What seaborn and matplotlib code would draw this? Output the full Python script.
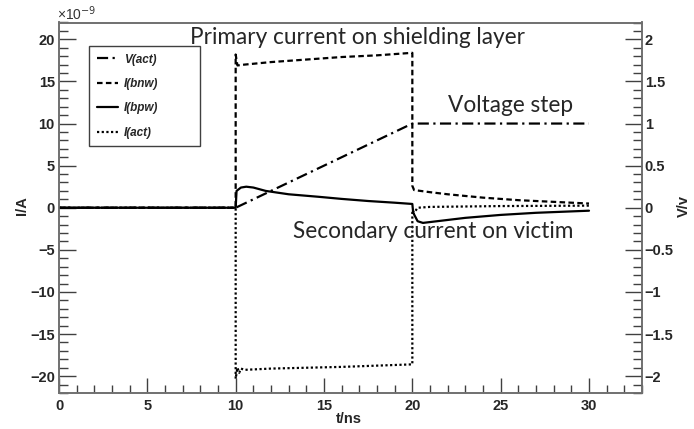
import numpy as np
import pandas as pd
import matplotlib
matplotlib.use('Agg')
import matplotlib.pyplot as plt
import seaborn as sns
from matplotlib.ticker import MultipleLocator
from matplotlib.lines import Line2D

# ---- values (currents in nA, voltage in V) ---- #
t_vact = [0, 10, 20, 30]
v_vact = [0, 0, 1, 1]

t_bnw = [0, 10, 10, 10.1, 10.5, 11, 12, 13, 14, 15, 16, 17, 18, 19, 20,
         20, 20.1, 21, 22, 23, 24, 25, 26, 27, 28, 29, 30]
i_bnw = [0, 0, 18.2, 16.9, 17.0, 17.1, 17.3, 17.45, 17.6, 17.75, 17.9, 18.0, 18.1, 18.25, 18.4,
         2.6, 2.1, 1.85, 1.6, 1.4, 1.2, 1.05, 0.9, 0.8, 0.7, 0.6, 0.5]

t_bpw = [0, 10, 10.05, 10.3, 10.6, 11, 11.7, 13, 14.7, 16, 17.5, 19, 20,
         20.05, 20.3, 20.6, 21, 22, 23, 25, 27, 30]
i_bpw = [0, 0, 2.0, 2.4, 2.5, 2.4, 2.0, 1.6, 1.3, 1.05, 0.8, 0.6, 0.45,
         -0.6, -1.6, -1.8, -1.7, -1.45, -1.2, -0.85, -0.6, -0.35]

t_act = [0, 10, 10, 10.1, 10.2, 10.3, 10.5, 12, 14, 16, 18, 20,
         20, 20.1, 20.3, 21, 25, 30]
i_act = [0, 0, -20.3, -19.0, -19.6, -19.1, -19.25, -19.1, -19.0, -18.9, -18.75, -18.6,
         -0.3, -0.6, 0.0, 0.1, 0.2, 0.25]

sns.set_style('ticks')
plt.rcParams['font.family'] = ['Liberation Sans', 'DejaVu Sans']

fig = plt.figure(figsize=(6.94, 4.29), dpi=100)
ax = fig.add_axes([59/694, 1-393/429, (642-59)/694, (393-22.5)/429])
ax2 = ax.twinx()

lw = 1.6
sty = {
    'V(act)': (0, (5, 2, 1, 2)),
    'I(bnw)': (0, (2.5, 1.5)),
    'I(bpw)': '-',
    'I(act)': (0, (1, 1.1)),
}

sns.lineplot(x=t_bnw, y=i_bnw, ax=ax, estimator=None, sort=False, color='black', lw=lw, linestyle=sty['I(bnw)'])
sns.lineplot(x=t_bpw, y=i_bpw, ax=ax, estimator=None, sort=False, color='black', lw=lw, linestyle=sty['I(bpw)'])
sns.lineplot(x=t_act, y=i_act, ax=ax, estimator=None, sort=False, color='black', lw=lw, linestyle=sty['I(act)'])
sns.lineplot(x=t_vact, y=v_vact, ax=ax2, estimator=None, sort=False, color='black', lw=lw, linestyle=sty['V(act)'])

ax.set_xlim(0, 33)
ax.set_ylim(-22, 22)
ax2.set_ylim(-2.2, 2.2)

ax.xaxis.set_major_locator(MultipleLocator(5))
ax.xaxis.set_minor_locator(MultipleLocator(1))
ax.yaxis.set_major_locator(MultipleLocator(5))
ax.yaxis.set_minor_locator(MultipleLocator(1))
ax2.yaxis.set_minor_locator(MultipleLocator(0.1))
ax2.set_yticks([-2, -1.5, -1, -0.5, 0, 0.5, 1, 1.5, 2])
ax2.set_yticklabels(['\u22122', '\u22121.5', '\u22121', '\u22120.5', '0', '0.5', '1', '1.5', '2'])

tc = '#404040'
for a in (ax, ax2):
    for s in a.spines.values():
        s.set_visible(True)
        s.set_color('#707070')
        s.set_linewidth(1.2)
    a.tick_params(which='major', direction='in', length=12.5, width=1, color=tc,
                  labelsize=10.5, pad=3)
    a.tick_params(which='minor', direction='in', length=6.5, width=1, color=tc)
    a.set_xlabel('')
    a.set_ylabel('')
ax.tick_params(axis='x', which='major', length=10.5, pad=4)
ax.tick_params(axis='x', which='minor', length=6)
ax.tick_params(axis='y', which='both', left=True, right=False)
ax2.tick_params(axis='y', which='both', left=False, right=True, pad=2)
for lab in ax.get_xticklabels() + ax.get_yticklabels() + ax2.get_yticklabels():
    lab.set_fontweight('bold')

# axis titles, ROOT style
fig.text(349/694, 1-419/429, 't/ns', ha='center', va='center', fontsize=10.5, fontweight='bold')
fig.text(22/694, 1-206/429, 'I/A', ha='center', va='center', fontsize=10.5, fontweight='bold', rotation=90)
fig.text(684/694, 1-206/429, 'V/v', ha='center', va='center', fontsize=10.5, fontweight='bold', rotation=90)
fig.text(57/694, 1-14/429, '\u00d710$^{-9}$', ha='left', va='center', fontsize=10, color='#333333')

# annotations
anno = dict(ha='center', va='center', fontsize=16.3, family=['Lato', 'DejaVu Sans'])
fig.text(358/694, 1-37/429, 'Primary current on shielding layer', **anno)
fig.text(511/694, 1-105/429, 'Voltage step', **anno)
fig.text(433/694, 1-232/429, 'Secondary current on victim', **anno)

handles = [Line2D([], [], color='black', lw=lw, linestyle=sty[k]) for k in sty]
leg = ax2.legend(handles, list(sty.keys()), loc='upper left',
                 bbox_to_anchor=(30/583, 0.688, 111/583, 0.249), mode='expand',
                 frameon=True, fancybox=False, framealpha=1, edgecolor='#404040',
                 handlelength=1.8, handletextpad=0.5, labelspacing=1.05, borderpad=0.65,
                 borderaxespad=0, prop={'size': 8.5, 'weight': 'bold', 'style': 'italic'})
leg.get_frame().set_linewidth(1.0)

fig.savefig('out.png', dpi=100)
